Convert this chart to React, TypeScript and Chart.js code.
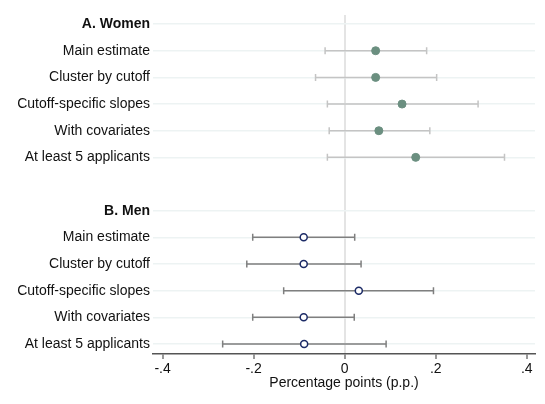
import React, { useEffect, useRef } from "react";
import { Chart, registerables } from "chart.js";

Chart.register(...registerables);

const rowLabels = [
  "Main estimate",
  "Cluster by cutoff",
  "Cutoff-specific slopes",
  "With covariates",
  "At least 5 applicants",
];
const groupLabels = ["A. Women", "B. Men"];

const womenEst = [0.068, 0.068, 0.126, 0.075, 0.156];
const womenLo = [-0.043, -0.064, -0.038, -0.034, -0.038];
const womenHi = [0.18, 0.202, 0.293, 0.187, 0.351];

const menEst = [-0.09, -0.09, 0.031, -0.09, -0.089];
const menLo = [-0.202, -0.215, -0.134, -0.202, -0.268];
const menHi = [0.022, 0.036, 0.195, 0.021, 0.091];

const xTicks = [-0.4, -0.2, 0, 0.2, 0.4];

// row positions (0 = Women header, 6 = blank gap, 7 = Men header)
const womenRows = rowLabels.map((_, i) => i + 1);
const menRows = rowLabels.map((_, i) => i + 8);
const labelMap: Record<number, string> = { 0: groupLabels[0], 7: groupLabels[1] };
rowLabels.forEach((l, i) => {
  labelMap[i + 1] = l;
  labelMap[i + 8] = l;
});
const yTickPositions = [0, ...womenRows, 7, ...menRows];

const fmt = (v: number) => {
  if (Math.abs(v) < 1e-9) return "0";
  const s = v.toFixed(1);
  return s.replace("0.", ".");
};

const errorBarPlugin = {
  id: "errorBars",
  beforeDatasetsDraw(chart: any) {
    const { ctx } = chart;
    const xs = chart.scales.x;
    const ys = chart.scales.y;
    chart.data.datasets.forEach((ds: any) => {
      const color = ds.errColor;
      ctx.save();
      ctx.strokeStyle = color;
      ctx.lineWidth = 1.5;
      ds.data.forEach((d: any) => {
        const y = ys.getPixelForValue(d.y);
        const x1 = xs.getPixelForValue(d.lo);
        const x2 = xs.getPixelForValue(d.hi);
        ctx.beginPath();
        ctx.moveTo(x1, y);
        ctx.lineTo(x2, y);
        ctx.moveTo(x1, y - 3.5);
        ctx.lineTo(x1, y + 3.5);
        ctx.moveTo(x2, y - 3.5);
        ctx.lineTo(x2, y + 3.5);
        ctx.stroke();
      });
      ctx.restore();
    });
  },
};

export default function App() {
  const ref = useRef<HTMLCanvasElement | null>(null);
  useEffect(() => {
    if (!ref.current) return;
    const font = "'Liberation Sans', Arial, Helvetica, sans-serif";
    const chart = new Chart(ref.current, {
      type: "scatter",
      data: {
        datasets: [
          {
            label: "Women",
            data: womenEst.map((v, i) => ({ x: v, y: womenRows[i], lo: womenLo[i], hi: womenHi[i] })),
            pointRadius: 4,
            pointBackgroundColor: "#6b8f80",
            pointBorderColor: "#6b8f80",
            pointBorderWidth: 1,
            errColor: "#c4c4c4",
          } as any,
          {
            label: "Men",
            data: menEst.map((v, i) => ({ x: v, y: menRows[i], lo: menLo[i], hi: menHi[i] })),
            pointRadius: 3.5,
            pointBackgroundColor: "#ffffff",
            pointBorderColor: "#1c2b66",
            pointBorderWidth: 1.5,
            errColor: "#7f7f7f",
          } as any,
        ],
      },
      options: {
        animation: false,
        responsive: false,
        maintainAspectRatio: false,
        layout: { padding: { left: 0, right: 10, top: 15, bottom: 12 } },
        plugins: {
          legend: { display: false },
          tooltip: { enabled: false },
        },
        scales: {
          x: {
            type: "linear",
            min: -0.421,
            max: 0.418,
            afterBuildTicks: (scale: any) => {
              scale.ticks = xTicks.map((v) => ({ value: v }));
            },
            afterFit: (scale: any) => {
              scale.height = 38;
            },
            ticks: {
              callback: (v: any) => fmt(Number(v)),
              color: "#111",
              font: { family: font, size: 14 },
              padding: 2,
              maxRotation: 0,
            },
            grid: {
              color: (c: any) => (c.tick && Math.abs(c.tick.value) < 1e-9 ? "#e4e4e4" : "rgba(0,0,0,0)"),
              lineWidth: 2,
              tickColor: "#555",
              tickLength: 5,
              tickWidth: 1.2,
            },
            border: { display: true, color: "#555", width: 1.5 },
            title: {
              display: true,
              text: "Percentage points (p.p.)",
              color: "#111",
              font: { family: font, size: 14 },
              padding: { top: 0, bottom: 0 },
            },
          },
          y: {
            type: "linear",
            reverse: true,
            min: -0.34,
            max: 12.375,
            afterBuildTicks: (scale: any) => {
              scale.ticks = yTickPositions.map((v) => ({ value: v }));
            },
            afterFit: (scale: any) => {
              scale.width = 153;
            },
            ticks: {
              callback: (v: any) => labelMap[Number(v)] ?? "",
              color: "#111",
              padding: 3,
              font: (c: any) => ({
                family: font,
                size: 14,
                weight: c.tick && (c.tick.value === 0 || c.tick.value === 7) ? "bold" : "normal",
              }),
            },
            grid: {
              color: "#edf3f3",
              lineWidth: 1.5,
              drawTicks: false,
            },
            border: { display: false },
          },
        },
      } as any,
      plugins: [errorBarPlugin],
    });
    return () => chart.destroy();
  }, []);
  return (
    <div style={{ position: "absolute", left: 0, top: 0, width: 545, height: 404, background: "#fff" }}>
      <canvas ref={ref} width={545} height={404} style={{ width: 545, height: 404 }} />
    </div>
  );
}
